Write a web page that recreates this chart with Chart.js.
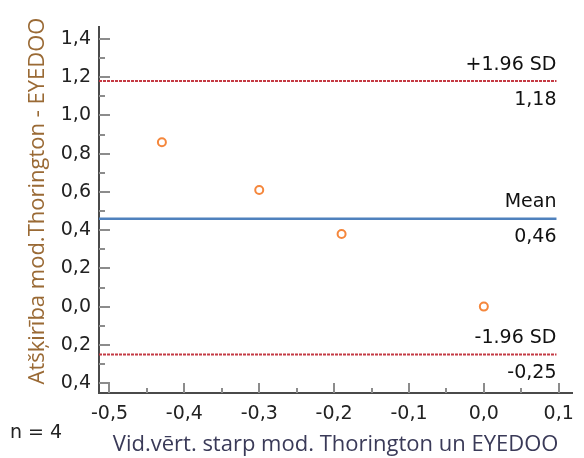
<!DOCTYPE html>
<html>
<head>
<meta charset="utf-8">
<script src="https://cdn.jsdelivr.net/npm/chart.js@4"></script>
<style>
  html, body { margin: 0; padding: 0; background: #fff; }
  #wrap { width: 584px; height: 458px; }
</style>
</head>
<body>
<div id="wrap"><canvas id="baChart" width="584" height="458"></canvas></div>
<script>
// Bland-Altman data
const means = [-0.43, -0.30, -0.19, 0.00];
const diffs = [0.86, 0.61, 0.38, 0.00];

const meanDiff = 0.46;
const upperLimit = 1.18;
const lowerLimit = -0.25;

const xRange = [-0.514, 0.118];
const yRange = [-0.452, 1.463];
const lineStartEnd = [-0.514, 0.097];

const xTicks = [-0.5, -0.4, -0.3, -0.2, -0.1, 0.0, 0.1];
const xTickLabels = ['-0,5', '-0,4', '-0,3', '-0,2', '-0,1', '0,0', '0,1'];
const xMinorTicks = [-0.45, -0.35, -0.25, -0.15, -0.05, 0.05];
const yTicks = [-0.4, -0.2, 0.0, 0.2, 0.4, 0.6, 0.8, 1.0, 1.2, 1.4];
const yTickLabels = ['0,4', '0,2', '0,0', '0,2', '0,4', '0,6', '0,8', '1,0', '1,2', '1,4'];
const yMinorTicks = [-0.3, -0.1, 0.1, 0.3, 0.5, 0.7, 0.9, 1.1, 1.3];

const limitLines = [
    { value: upperLimit, above: '+1.96 SD', below: '1,18' },
    { value: meanDiff, above: 'Mean', below: '0,46' },
    { value: lowerLimit, above: '-1.96 SD', below: '-0,25' }
];

const yTitle = 'Atšķirība mod.Thorington - EYEDOO';
const xTitle = 'Vid.vērt. starp mod. Thorington un EYEDOO';

const tickFont = { family: 'DejaVu Sans', size: 19, lineHeight: 1.2 };
const titleFont = { family: 'Open Sans', size: 22, lineHeight: 1.2 };

// inward tick marks, y title, line labels, n
const extrasPlugin = {
    id: 'extras',
    afterDraw(chart) {
        const ctx = chart.ctx;
        const xs = chart.scales.x, ys = chart.scales.y;
        const area = chart.chartArea;
        ctx.save();
        ctx.strokeStyle = '#8c8c8c';
        ctx.lineWidth = 2;
        ctx.beginPath();
        yTicks.forEach(v => { const p = Math.round(ys.getPixelForValue(v)); ctx.moveTo(area.left, p); ctx.lineTo(area.left + 11, p); });
        yMinorTicks.forEach(v => { const p = Math.round(ys.getPixelForValue(v)); ctx.moveTo(area.left, p); ctx.lineTo(area.left + 6, p); });
        xTicks.forEach(v => { const p = Math.round(xs.getPixelForValue(v)); ctx.moveTo(p, area.bottom); ctx.lineTo(p, area.bottom - 10); });
        xMinorTicks.forEach(v => { const p = Math.round(xs.getPixelForValue(v)); ctx.moveTo(p, area.bottom); ctx.lineTo(p, area.bottom - 5); });
        ctx.stroke();

        // y title
        ctx.save();
        ctx.translate(38, 201);
        ctx.rotate(-Math.PI / 2);
        ctx.font = '22px "Open Sans"';
        ctx.fillStyle = '#9a6a35';
        ctx.textAlign = 'center';
        ctx.textBaseline = 'middle';
        ctx.fillText(yTitle, 0, 0);
        ctx.restore();

        ctx.fillStyle = '#111';
        ctx.font = '19px "DejaVu Sans"';
        ctx.textAlign = 'right';
        const xr = xs.getPixelForValue(lineStartEnd[1]);
        limitLines.forEach(l => {
            const py = ys.getPixelForValue(l.value);
            ctx.textBaseline = 'bottom';
            ctx.fillText(l.above, xr, py - 7);
            ctx.textBaseline = 'top';
            ctx.fillText(l.below, xr, py + 9);
        });

        ctx.textAlign = 'left';
        ctx.textBaseline = 'middle';
        ctx.fillStyle = '#222';
        ctx.fillText('n = ' + diffs.length, 10, 433);
        ctx.restore();
    }
};

const lineDataset = (v, color, dash, width) => ({
    type: 'line',
    data: [{ x: lineStartEnd[0], y: v }, { x: lineStartEnd[1], y: v }],
    borderColor: color,
    borderWidth: width,
    borderDash: dash,
    pointRadius: 0,
    fill: false
});

new Chart(document.getElementById('baChart').getContext('2d'), {
    type: 'scatter',
    data: {
        datasets: [
            lineDataset(upperLimit, '#c43a44', [3, 1], 2),
            lineDataset(meanDiff, '#4f81bd', [], 2.5),
            lineDataset(lowerLimit, '#c43a44', [3, 1], 2),
            {
                data: means.map((m, i) => ({ x: m, y: diffs[i] })),
                pointRadius: 4,
                pointBorderWidth: 2,
                pointBorderColor: '#f5873c',
                pointBackgroundColor: '#ffffff'
            }
        ]
    },
    options: {
        responsive: false,
        animation: false,
        layout: { padding: { top: 27, right: 0, left: 0, bottom: 0 } },
        plugins: { legend: { display: false }, tooltip: { enabled: false } },
        scales: {
            x: {
                type: 'linear',
                min: xRange[0],
                max: xRange[1],
                afterBuildTicks: s => { s.ticks = xTicks.map(v => ({ value: v })); },
                afterFit: s => { s.height = 65; },
                grid: { drawOnChartArea: false, drawTicks: false },
                border: { color: '#4a4a4a', width: 2 },
                ticks: {
                    font: tickFont,
                    color: '#222',
                    padding: 10,
                    maxRotation: 0,
                    callback: (v, i) => xTickLabels[i]
                },
                title: {
                    display: true,
                    text: xTitle,
                    font: titleFont,
                    color: '#3a3a58',
                    padding: { top: 0, bottom: 0 }
                }
            },
            y: {
                type: 'linear',
                min: yRange[0],
                max: yRange[1],
                afterBuildTicks: s => { s.ticks = yTicks.map(v => ({ value: v })); },
                afterFit: s => { s.width = 99; },
                grid: { drawOnChartArea: false, drawTicks: false },
                border: { color: '#4a4a4a', width: 2 },
                ticks: {
                    font: tickFont,
                    color: '#222',
                    padding: 8,
                    callback: (v, i) => yTickLabels[i]
                },
                title: { display: false }
            }
        }
    },
    plugins: [extrasPlugin]
});
</script>
</body>
</html>
